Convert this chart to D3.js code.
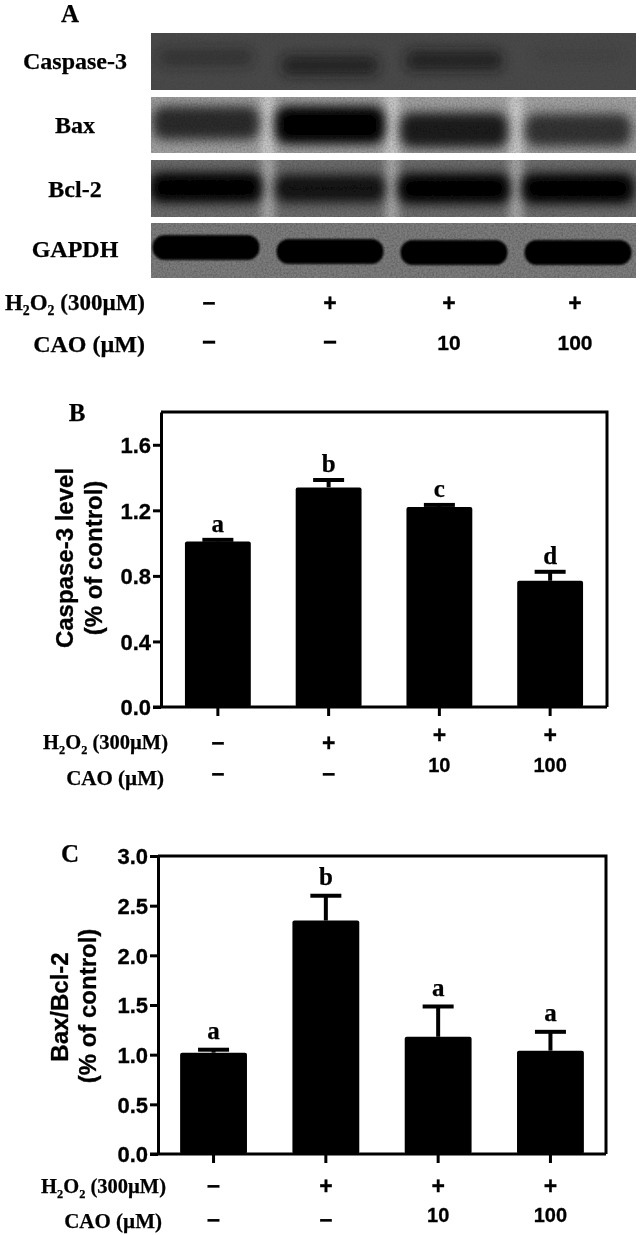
<!DOCTYPE html>
<html><head><meta charset="utf-8">
<script src="https://cdn.jsdelivr.net/npm/d3@7/dist/d3.min.js"></script>
<style>html,body{margin:0;background:#fff}svg{display:block}
.serif{font-family:"Liberation Serif";font-weight:700;stroke:#000;stroke-width:.25px}
.sans{font-family:"Liberation Sans";font-weight:700;stroke:#000;stroke-width:.3px}</style>
</head><body><svg id="c" width="641" height="1235"></svg>
<script>
const groups = ["Control","H2O2","H2O2+CAO10","H2O2+CAO100"];
const h2o2Signs = ["−","+","+","+"];
const caoSigns = ["−","−","10","100"];
const caspaseValues = [1.01,1.34,1.22,0.77];
const caspaseUpper = [1.02,1.385,1.233,0.825];
const caspaseLetters = ["a","b","c","d"];
const caspaseTicks = [0,0.4,0.8,1.2,1.6];
const ratioValues = [1.02,2.35,1.18,1.04];
const ratioUpper = [1.05,2.6,1.485,1.23];
const ratioLetters = ["a","b","a","a"];
const ratioTicks = [0,0.5,1,1.5,2,2.5,3];
const blotNames = ["Caspase-3","Bax","Bcl-2","GAPDH"];
const caspaseBands = [0.4,0.7,0.72,0.08];
const baxBands = [0.72,1,0.82,0.68];
const bcl2Bands = [1,0.82,1,1];
const gapdhBands = [1,1,1,1];

const svg = d3.select("#c");
const defs = svg.append("defs");
function blur(id,s){defs.append("filter").attr("id",id).attr("x","-30%").attr("y","-80%").attr("width","160%").attr("height","260%")
  .append("feGaussianBlur").attr("stdDeviation",s);}
blur("b6",6);blur("b5",5.5);blur("b2",1.2);
defs.append("filter").attr("id","gap").attr("x","-200%").attr("y","-10%").attr("width","500%").attr("height","120%")
  .append("feGaussianBlur").attr("stdDeviation",4);
defs.append("filter").attr("id","soft").attr("filterUnits","userSpaceOnUse").attr("x",0).attr("y",0).attr("width",641).attr("height",1235)
  .append("feGaussianBlur").attr("stdDeviation",0.45);
const noise=defs.append("filter").attr("id","noise").attr("x",0).attr("y",0).attr("width","100%").attr("height","100%");
noise.append("feTurbulence").attr("type","fractalNoise").attr("baseFrequency",0.55).attr("numOctaves",2).attr("seed",4);
noise.append("feColorMatrix").attr("values","0 0 0 0 0  0 0 0 0 0  0 0 0 0 0  0.9 0 0 0 -0.32");
const root=svg.append("g").attr("filter","url(#soft)");

// Panel A
const blotCfg=[
 {v:caspaseBands,y0:33,y1:90,bg:"#484848",ink:"#141414",w:100,h:18,f:"b6",r:8,label:62,off:[-4,4,-1,-6],noise:.15,gap:0},
 {v:baxBands,y0:97,y1:153,bg:"#a0a0a0",ink:"#000",w:110,h:30,f:"b5",r:12,label:126,off:[-2,0,5,5],noise:.4,gap:.45},
 {v:bcl2Bands,y0:160,y1:217,bg:"#6c6c6c",ink:"#000",w:112,h:24,f:"b5",r:10,label:190,off:[-1,0,0,0],noise:.4,gap:.4},
 {v:gapdhBands,y0:223,y1:278,bg:"#7c7c7c",ink:"#000",w:107,h:20,f:"b2",r:12,label:250,off:[-3,1,2,2],noise:.5,gap:0}];
const laneX=d3.scalePoint().domain(groups).range([206,578]);
const blotX=[151,636];
blotCfg.forEach((c,ri)=>{
  const gid="clip"+ri;
  defs.append("clipPath").attr("id",gid).append("rect").attr("x",blotX[0]).attr("y",c.y0).attr("width",blotX[1]-blotX[0]).attr("height",c.y1-c.y0);
  const g=root.append("g").attr("clip-path",`url(#${gid})`);
  g.append("rect").attr("x",blotX[0]).attr("y",c.y0).attr("width",blotX[1]-blotX[0]).attr("height",c.y1-c.y0).attr("fill",c.bg);
  g.selectAll("rect.gap").data(groups.slice(1)).join("rect").attr("class","gap")
    .attr("x",d=>laneX(d)-laneX.step()/2-7).attr("width",14).attr("y",c.y0-10).attr("height",c.y1-c.y0+20)
    .attr("fill","#fff").attr("opacity",c.gap).attr("filter","url(#gap)");
  g.selectAll("rect.band").data(c.v).join("rect").attr("class","band")
    .attr("x",(d,i)=>laneX(groups[i])-c.w/2*(.9+.1*d))
    .attr("width",d=>c.w*(.9+.1*d))
    .attr("y",(d,i)=>(c.y0+c.y1)/2+c.off[i]-c.h/2*(.75+.5*d))
    .attr("height",d=>c.h*(.75+.5*d))
    .attr("rx",c.r).attr("fill",c.ink).attr("opacity",d=>d).attr("filter",`url(#${c.f})`);
  g.append("rect").attr("x",blotX[0]).attr("y",c.y0).attr("width",blotX[1]-blotX[0]).attr("height",c.y1-c.y0)
    .attr("filter","url(#noise)").attr("opacity",c.noise);
  root.append("text").attr("class","serif").attr("x",75).attr("y",c.label+7).attr("text-anchor","middle").attr("font-size",24).text(blotNames[ri]);
});
function h2o2Label(sel,xr,y,fs){
  const t=sel.append("text").attr("class","serif").attr("x",xr).attr("y",y).attr("text-anchor","end").attr("font-size",fs);
  t.append("tspan").text("H");
  t.append("tspan").attr("font-size",fs*.6).attr("dy",fs*.22).text("2");
  t.append("tspan").attr("dy",-fs*.22).text("O");
  t.append("tspan").attr("font-size",fs*.6).attr("dy",fs*.22).text("2");
  t.append("tspan").attr("dy",-fs*.22).text(" (300µM)");
}
function signs(data,xs,ys,fs){
  root.append("g").selectAll("text").data(data).join("text").attr("class","sans")
   .attr("x",(d,i)=>xs(i)).attr("y",(d,i)=>ys(i)).attr("text-anchor","middle")
   .attr("font-size",d=>/\d/.test(d)?fs:fs+3).text(d=>d);
}
root.append("text").attr("class","serif").attr("x",70).attr("y",22).attr("text-anchor","middle").attr("font-size",25).text("A");
h2o2Label(root,145,310,23);
root.append("text").attr("class","serif").attr("x",145).attr("y",352).attr("text-anchor","end").attr("font-size",24).text("CAO (µM)");
const aX=d3.scaleOrdinal().domain(d3.range(4)).range([209,330,449,575]);
signs(h2o2Signs,aX,()=>311,20);
signs(caoSigns,aX,()=>350,21);

function panel(o){
  const y=d3.scaleLinear().domain(o.domain).range(o.yr);
  const x=d3.scaleBand().domain(groups).range(o.xr).paddingInner(o.pi).paddingOuter(o.po);
  const g=root.append("g");
  g.append("path").attr("d",`M${o.xr[0]},${o.yr[1]}H${o.xr[1]}V${o.yr[0]}`).attr("fill","none").attr("stroke","#000").attr("stroke-width",3);
  const ax=g.append("g").attr("transform",`translate(${o.xr[0]},0)`).call(d3.axisLeft(y).tickValues(o.ticks).tickFormat(d3.format(".1f")).tickSize(o.tl).tickSizeOuter(0).tickPadding(2));
  ax.selectAll("path").attr("stroke","#000").attr("stroke-width",3);
  ax.selectAll("line").attr("stroke","#000").attr("stroke-width",3);
  ax.selectAll("text").attr("class","sans").attr("font-size",22).attr("fill","#000").attr("dy","0.36em");
  const bx=g.append("g").attr("transform",`translate(0,${o.yr[0]})`).call(d3.axisBottom(x).tickSize(9).tickSizeOuter(0).tickFormat(""));
  bx.select("path").attr("d",`M${o.xr[0]-o.tl},0H${o.xr[1]}`).attr("stroke","#000").attr("stroke-width",3);
  bx.selectAll("line").attr("stroke","#000").attr("stroke-width",3);
  const c=d=>x(d)+x.bandwidth()/2;
  g.selectAll("line.err").data(groups).join("line").attr("class","err").attr("x1",c).attr("x2",c)
    .attr("y1",(d,i)=>y(o.vals[i])).attr("y2",(d,i)=>y(o.up[i])).attr("stroke","#000").attr("stroke-width",4);
  g.selectAll("line.cap").data(groups).join("line").attr("class","cap").attr("x1",d=>c(d)-15.5).attr("x2",d=>c(d)+15.5)
    .attr("y1",(d,i)=>y(o.up[i])).attr("y2",(d,i)=>y(o.up[i])).attr("stroke","#000").attr("stroke-width",4);
  g.selectAll("rect.bar").data(groups).join("rect").attr("class","bar").attr("x",d=>x(d)).attr("width",x.bandwidth())
    .attr("y",(d,i)=>y(o.vals[i])).attr("height",(d,i)=>y(0)-y(o.vals[i])).attr("rx",2).attr("fill","#000");
  g.selectAll("text.let").data(o.letters).join("text").attr("class","serif let").attr("text-anchor","middle").attr("font-size",25)
    .attr("x",(d,i)=>c(groups[i])).attr("y",(d,i)=>y(o.up[i])-o.gap).text(d=>d);
  o.titles.forEach(t=>g.append("text").attr("class","sans").attr("font-size",o.tfs).attr("text-anchor","middle")
    .attr("transform",`translate(${t[1]},${t[2]}) rotate(-90)`).text(t[0]));
  root.append("text").attr("class","serif").attr("x",o.tag[0]).attr("y",o.tag[1]).attr("text-anchor","middle").attr("font-size",25).text(o.tagText);
  h2o2Label(root,o.rl[0],o.rl[1],20.5);
  root.append("text").attr("class","serif").attr("x",o.rl[2]).attr("y",o.rl[3]).attr("text-anchor","end").attr("font-size",21).text("CAO (µM)");
  signs(h2o2Signs,i=>c(groups[i]),i=>o.sy1[i],20);
  signs(caoSigns,i=>c(groups[i]),i=>o.sy2[i],20);
}
panel({domain:[0,1.8],yr:[707,412],xr:[161,607],pi:(111-66)/111,po:24/111,ticks:caspaseTicks,tl:8,gap:8,
 vals:caspaseValues,up:caspaseUpper,letters:caspaseLetters,tfs:24,
 titles:[["Caspase-3 level",73,558],["(% of control)",102,558]],tag:[77,421],tagText:"B",
 rl:[168,749,164,785],sy1:[751,751,743,743],sy2:[782,782,772,772]});
panel({domain:[0,3],yr:[1154,856],xr:[158,606],pi:(111.7-66.5)/111.7,po:22/111.7,ticks:ratioTicks.slice(0,6),tl:8,gap:10.5,
 vals:ratioValues,up:ratioUpper,letters:ratioLetters,tfs:24,
 titles:[["Bax/Bcl-2",68,1007],["(% of control)",96,1006]],tag:[70,862],tagText:"C",
 rl:[166,1193,162,1228],sy1:[1194,1194,1194,1194],sy2:[1228,1228,1222,1222]});
// top tick of panel C's axis, which carries the 3.0 label
(function(){const y=d3.scaleLinear().domain([0,3]).range([1154,856]);
 const a=root.append("g").attr("transform","translate(158,0)").call(d3.axisLeft(y).tickValues([ratioTicks[6]]).tickFormat(d3.format(".1f")).tickSize(8).tickSizeOuter(0).tickPadding(2));
 a.select("path").remove();a.selectAll("line").attr("stroke","#000").attr("stroke-width",3);
 a.selectAll("text").attr("class","sans").attr("font-size",22).attr("fill","#000").attr("dy","0.36em");})();
</script></body></html>
